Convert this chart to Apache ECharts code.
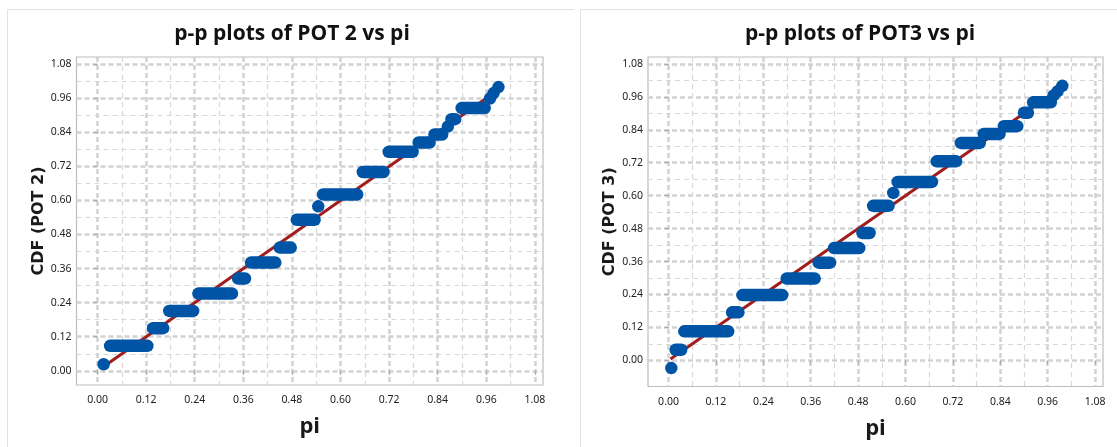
<!DOCTYPE html>
<html>
<head>
<meta charset="utf-8">
<script src="https://cdn.jsdelivr.net/npm/echarts@6/dist/echarts.min.js"></script>
<style>
html,body{margin:0;padding:0;background:#fff;}
#c{width:1117px;height:447px;}
</style>
</head>
<body>
<div id="c"></div>
<script>
// ---- data ----
const tickValues = [0, 0.12, 0.24, 0.36, 0.48, 0.60, 0.72, 0.84, 0.96, 1.08];
const minorValues = [0.06, 0.18, 0.30, 0.42, 0.54, 0.66, 0.78, 0.90, 1.02];

const pot2Start = [0.015, 0.031, 0.137, 0.177, 0.249, 0.347, 0.379, 0.450, 0.492, 0.545, 0.557, 0.655, 0.719, 0.793, 0.832, 0.865, 0.874, 0.899, 0.969, 0.978, 0.990];
const pot2End   = [0.015, 0.123, 0.162, 0.236, 0.332, 0.364, 0.439, 0.477, 0.536, 0.545, 0.641, 0.706, 0.778, 0.820, 0.851, 0.865, 0.883, 0.956, 0.969, 0.978, 0.990];
const pot2Cdf   = [0.023, 0.088, 0.150, 0.211, 0.272, 0.325, 0.381, 0.434, 0.532, 0.579, 0.621, 0.700, 0.771, 0.804, 0.832, 0.860, 0.886, 0.925, 0.959, 0.978, 0.999];

const pot3Start = [0.007, 0.018, 0.040, 0.161, 0.187, 0.299, 0.380, 0.419, 0.491, 0.518, 0.569, 0.580, 0.679, 0.740, 0.798, 0.849, 0.900, 0.923, 0.975, 0.985, 0.997];
const pot3End   = [0.007, 0.032, 0.151, 0.177, 0.288, 0.370, 0.409, 0.483, 0.509, 0.557, 0.569, 0.667, 0.728, 0.788, 0.838, 0.883, 0.910, 0.968, 0.975, 0.985, 0.997];
const pot3Cdf   = [-0.028, 0.039, 0.106, 0.175, 0.238, 0.298, 0.356, 0.409, 0.464, 0.563, 0.610, 0.650, 0.725, 0.792, 0.825, 0.853, 0.902, 0.940, 0.965, 0.980, 1.000];

const refLine2 = [[0.01, 0.01], [0.99, 0.99]];
const refLine3 = [[0.005, 0.005], [0.995, 0.995]];

const titles = ['p-p plots of POT 2 vs pi', 'p-p plots of POT3 vs pi'];
const yNames = ['CDF (POT 2)', 'CDF (POT 3)'];
const xName = 'pi';

// ---- styles ----
const BLUE = '#0054a6';
const RED = '#a11d1d';
const DOT = 12.5;
const FONT = 'Noto Sans';

function zip3(a, b, c) { return a.map((v, i) => [v, b[i], c[i]]); }

function renderSteps(params, api) {
  const a = api.coord([api.value(0), api.value(2)]);
  const b = api.coord([api.value(1), api.value(2)]);
  const r = DOT / 2;
  return {
    type: 'rect',
    shape: { x: a[0] - r, y: a[1] - r, width: b[0] - a[0] + 2 * r, height: 2 * r, r: r },
    style: { fill: BLUE }
  };
}

const MAJOR_GRID = { color: '#d2d2d2', width: 2.5, type: [5, 3] };
const MINOR_GRID = { color: '#d8d8d8', width: 1.2, type: [5, 4] };

function majorX(gi, name) {
  return {
    type: 'value', gridIndex: gi, min: -0.052, max: 1.10,
    name: name, nameLocation: 'middle', nameGap: 31,
    nameTextStyle: { fontFamily: 'Open Sans', fontWeight: 'bold', fontSize: 22, color: '#1a1a1a' },
    axisLine: { show: false },
    axisTick: { show: true, customValues: tickValues, length: 4, lineStyle: { color: '#a8a8a8' } },
    axisLabel: { show: true, customValues: tickValues, margin: 10, fontFamily: FONT, fontSize: 10.5, color: '#222',
      formatter: v => v.toFixed(2) },
    splitLine: { show: true, lineStyle: MAJOR_GRID }
  };
}
function minorX(gi) {
  return {
    type: 'value', gridIndex: gi, min: -0.052, max: 1.10,
    axisLine: { show: false },
    axisTick: { show: false, customValues: minorValues },
    axisLabel: { show: false, customValues: minorValues },
    splitLine: { show: true, lineStyle: MINOR_GRID }
  };
}
function majorY(gi, name, min) {
  return {
    type: 'value', gridIndex: gi, min: min, max: 1.105,
    name: name, nameLocation: 'middle', nameGap: 30, nameRotate: 90,
    nameTextStyle: { fontFamily: 'DejaVu Sans', fontWeight: 'bold', fontSize: 16, color: '#1a1a1a' },
    axisLine: { show: false },
    axisTick: { show: true, customValues: tickValues, length: 4, lineStyle: { color: '#a8a8a8' } },
    axisLabel: { show: true, customValues: tickValues, margin: 5, fontFamily: FONT, fontSize: 10.5, color: '#222',
      formatter: v => v.toFixed(2) },
    splitLine: { show: true, lineStyle: MAJOR_GRID }
  };
}
function minorY(gi, min) {
  return {
    type: 'value', gridIndex: gi, min: min, max: 1.105,
    axisLine: { show: false },
    axisTick: { show: false, customValues: minorValues },
    axisLabel: { show: false, customValues: minorValues },
    splitLine: { show: true, lineStyle: MINOR_GRID }
  };
}

const chart = echarts.init(document.getElementById('c'), null, { renderer: 'canvas' });
chart.setOption({
  animation: false,
  backgroundColor: '#ffffff',
  title: [
    { text: titles[0], left: 287, top: 19, textAlign: 'center',
      textStyle: { fontFamily: 'Open Sans', fontWeight: 'bold', fontSize: 21, color: '#111' } },
    { text: titles[1], left: 855, top: 19, textAlign: 'center',
      textStyle: { fontFamily: 'Open Sans', fontWeight: 'bold', fontSize: 21, color: '#111' } }
  ],
  graphic: [
    { type: 'line', shape: { x1: 7.5, y1: 9.5, x2: 7.5, y2: 447 }, style: { stroke: '#e2e2e2', lineWidth: 1 } },
    { type: 'line', shape: { x1: 7.5, y1: 9.5, x2: 574, y2: 9.5 }, style: { stroke: '#e2e2e2', lineWidth: 1 } },
    { type: 'line', shape: { x1: 580.5, y1: 9.5, x2: 580.5, y2: 447 }, style: { stroke: '#e2e2e2', lineWidth: 1 } },
    { type: 'line', shape: { x1: 580.5, y1: 9.5, x2: 1117, y2: 9.5 }, style: { stroke: '#e2e2e2', lineWidth: 1 } }
  ],
  grid: [
    { left: 76.5, top: 57, width: 466.5, height: 328, show: true, borderColor: '#bdbdbd', borderWidth: 1.2, backgroundColor: 'transparent' },
    { left: 648, top: 57, width: 455, height: 329.5, show: true, borderColor: '#bdbdbd', borderWidth: 1.2, backgroundColor: 'transparent' }
  ],
  xAxis: [majorX(0, xName), minorX(0), majorX(1, xName), minorX(1)],
  yAxis: [majorY(0, yNames[0], -0.05), minorY(0, -0.05), majorY(1, yNames[1], -0.095), minorY(1, -0.095)],
  series: [
    { type: 'line', xAxisIndex: 0, yAxisIndex: 0, data: refLine2, symbol: 'none',
      lineStyle: { color: RED, width: 3 }, z: 2 },
    { type: 'custom', xAxisIndex: 0, yAxisIndex: 0, data: zip3(pot2Start, pot2End, pot2Cdf),
      encode: { x: [0, 1], y: 2 }, renderItem: renderSteps, z: 3 },
    { type: 'line', xAxisIndex: 2, yAxisIndex: 2, data: refLine3, symbol: 'none',
      lineStyle: { color: RED, width: 3 }, z: 2 },
    { type: 'custom', xAxisIndex: 2, yAxisIndex: 2, data: zip3(pot3Start, pot3End, pot3Cdf),
      encode: { x: [0, 1], y: 2 }, renderItem: renderSteps, z: 3 }
  ]
});
</script>
</body>
</html>
